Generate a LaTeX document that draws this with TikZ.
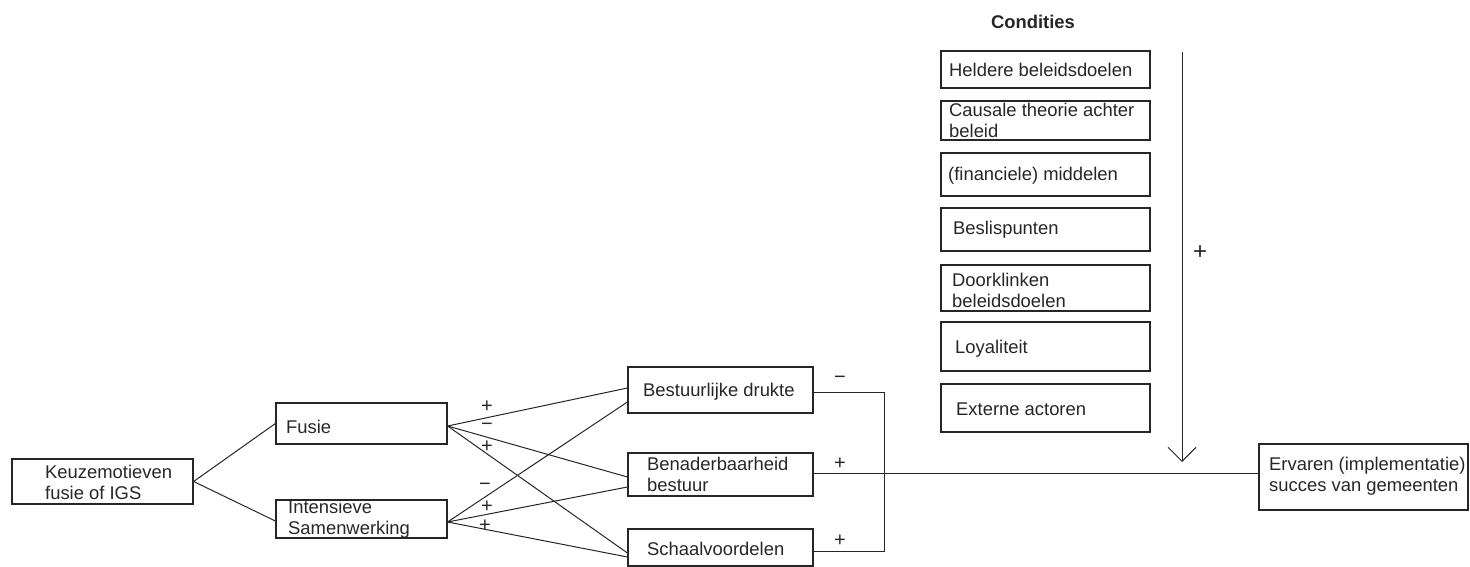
\documentclass[tikz,border=0pt]{standalone}
\usepackage{fontspec}
\setmainfont{Liberation Sans}
\usetikzlibrary{arrows.meta,calc}
\begin{document}
\begin{tikzpicture}[x=1pt,y=-1pt,
  box/.style={draw=black!85,line width=1.2pt,inner sep=0pt},
  txt/.style={anchor=west,inner sep=0pt,align=left,font=\fontsize{18.4}{21}\selectfont,text=black!85},
  sgn/.style={inner sep=0pt,font=\fontsize{20}{22}\selectfont,text=black!85},
  conn/.style={draw=black!85,line width=1pt}]
\useasboundingbox (0,0) rectangle (1470,567);
% boxes
\node[box,minimum width=181pt,minimum height=45pt] (keuze) at (102.5,481.5) {};
\node[box,minimum width=171pt,minimum height=41pt] (fusie) at (361.5,423.5) {};
\node[box,minimum width=171pt,minimum height=38pt] (inten) at (361.5,519) {};
\node[box,minimum width=185pt,minimum height=46pt] (bestuur) at (720.5,390) {};
\node[box,minimum width=185pt,minimum height=43pt] (benad) at (720.5,474.5) {};
\node[box,minimum width=185pt,minimum height=37pt] (schaal) at (720.5,547.5) {};
\node[box,minimum width=209pt,minimum height=66pt] (ervaren) at (1363.5,477) {};
\node[box,minimum width=209pt,minimum height=37pt] (c1) at (1045.5,69.5) {};
\node[box,minimum width=209pt,minimum height=39pt] (c2) at (1045.5,120.5) {};
\node[box,minimum width=209pt,minimum height=43pt] (c3) at (1045.5,174.5) {};
\node[box,minimum width=209pt,minimum height=43pt] (c4) at (1045.5,229.5) {};
\node[box,minimum width=209pt,minimum height=46pt] (c5) at (1045.5,288) {};
\node[box,minimum width=209pt,minimum height=49pt] (c6) at (1045.5,346.5) {};
\node[box,minimum width=209pt,minimum height=48pt] (c7) at (1045.5,408) {};
% texts
\node[txt] (tkeuze) at (45,482) {Keuzemotieven\\fusie of IGS};
\node[txt] (tfusie) at (286,427) {Fusie};
\node[txt] (tinten) at (288,519) {Intensieve\\Samenwerking};
\node[txt] (tbestuur) at (643,392) {Bestuurlijke drukte};
\node[txt] (tbenad) at (647,474) {Benaderbaarheid\\bestuur};
\node[txt] (tschaal) at (647,549) {Schaalvoordelen};
\node[txt] (tervaren) at (1269,476) {Ervaren (implementatie)\\succes van gemeenten};
\node[txt] (tc1) at (949,70) {Heldere beleidsdoelen};
\node[txt] (tc2) at (949,120) {Causale theorie achter\\beleid};
\node[txt] (tc3) at (948,176) {(financiele) middelen};
\node[txt] (tc4) at (953,230) {Beslispunten};
\node[txt] (tc5) at (952,290) {Doorklinken\\beleidsdoelen};
\node[txt] (tc6) at (955,349) {Loyaliteit};
\node[txt] (tc7) at (956,409) {Externe actoren};
\node[inner sep=0pt,font=\bfseries\fontsize{18.4}{21}\selectfont,text=black!85] (cond) at (1033,22) {Condities};
% connectors
\draw[conn] (keuze.east) -- (fusie.west);
\draw[conn] (keuze.east) -- ([yshift=-2pt]inten.west);
\draw[conn] ([yshift=-2.5pt]fusie.east) -- ([yshift=2pt]bestuur.west);
\draw[conn] ([yshift=-2.5pt]fusie.east) -- ([yshift=-2.5pt]benad.west);
\draw[conn] ([yshift=-2.5pt]fusie.east) -- ([yshift=-5.5pt]schaal.west);
\draw[conn] ([yshift=-3pt]inten.east) -- ([yshift=-12pt]bestuur.west);
\draw[conn] ([yshift=-3pt]inten.east) -- ([yshift=-12.5pt]benad.west);
\draw[conn] ([yshift=-3pt]inten.east) -- ([yshift=-9.5pt]schaal.west);
\coordinate (rail) at (884,0);
\draw[conn] ([yshift=-2pt]bestuur.east) -- ([yshift=-2pt]rail |- bestuur.east) -- ([yshift=-3.5pt]rail |- schaal.east) -- ([yshift=-3.5pt]schaal.east);
\draw[conn] ([yshift=1.5pt]benad.east) -- ([yshift=1.5pt]ervaren.west |- benad.east);
\coordinate (atop) at (1182,52);
\coordinate (abot) at (1182,462);
\draw[conn,-{Straight Barb[length=14pt,width=28pt,line width=1pt]}] (atop) -- (abot);
% signs
\node[sgn] (s1) at (487,407) {+};
\node[sgn] (s2) at (487,427) {−};
\node[sgn] (s3) at (487,447) {+};
\node[sgn] (s4) at (485,487) {−};
\node[sgn] (s5) at (487,507) {+};
\node[sgn] (s6) at (485,526) {+};
\node[sgn] (s7) at (840,380) {−};
\node[sgn] (s8) at (840,464) {+};
\node[sgn] (s9) at (840,541) {+};
\node[inner sep=0pt,font=\fontsize{24}{26}\selectfont,text=black!85] (s10) at (1200,253) {+};
\end{tikzpicture}
\end{document}
